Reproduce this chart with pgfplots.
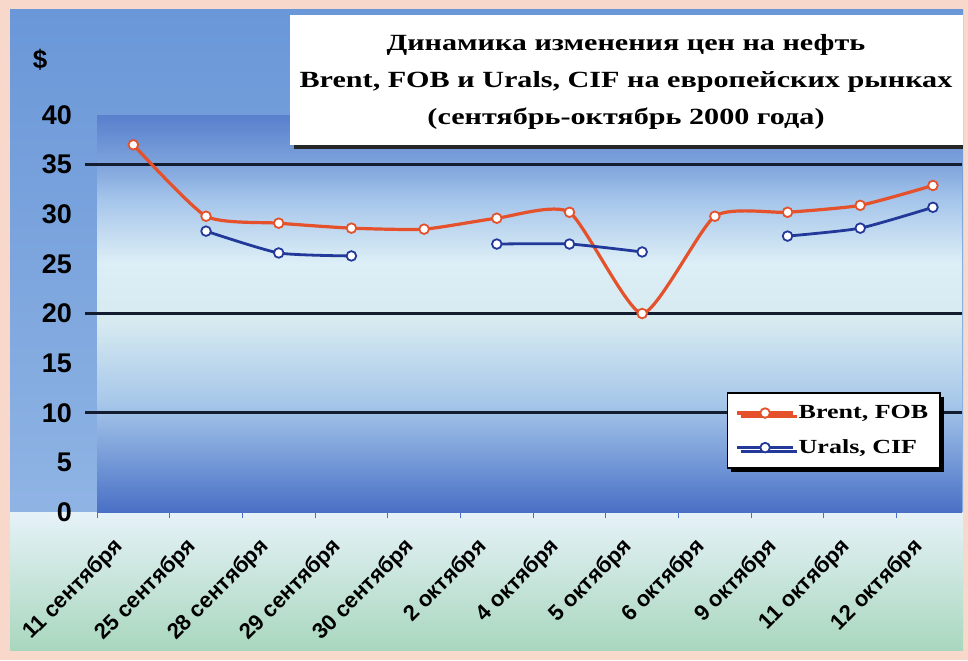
\documentclass[border=0pt]{standalone}
\usepackage{fontspec}
\setmainfont{Liberation Serif}
\setsansfont{Liberation Sans}
\newfontfamily\titlefont[FakeStretch=1.3]{Liberation Serif}
\usepackage{pgfplots}
\pgfplotsset{compat=1.18}
\usetikzlibrary{shadows}

\definecolor{pinkbg}{HTML}{F8D8CA}
\definecolor{panelTop}{HTML}{6A97D8}
\definecolor{panelBot}{HTML}{8FB4E4}
\definecolor{lowTop}{HTML}{E6F2F8}
\definecolor{lowBot}{HTML}{A9D7BE}
\definecolor{pb0}{HTML}{4A70C6}
\definecolor{pb1}{HTML}{6D92D4}
\definecolor{pb2}{HTML}{A8C8EA}
\definecolor{pb3}{HTML}{D6EAF0}
\definecolor{pb4}{HTML}{DCEEF6}
\definecolor{pb5}{HTML}{A4C4EA}
\definecolor{pb6}{HTML}{7EA3DC}
\definecolor{pb7}{HTML}{5880CC}
\definecolor{gridc}{HTML}{141C30}
\definecolor{redc}{HTML}{E4512B}
\definecolor{bluec}{HTML}{23399A}

\pgfdeclareverticalshading{plotbg}{100bp}{color(0bp)=(pb0); color(25bp)=(pb0); color(30.3bp)=(pb1); color(39bp)=(pb2); color(49bp)=(pb3); color(56.5bp)=(pb4); color(64.5bp)=(pb5); color(68.8bp)=(pb6); color(75bp)=(pb7); color(100bp)=(pb7)}

\begin{document}
\begin{tikzpicture}[x=1pt,y=1pt]
\path[use as bounding box, fill=pinkbg] (0,0) rectangle (484,330);
\shade[top color=panelTop, bottom color=panelBot] (5,74) rectangle (481.5,325);
\shade[top color=lowTop, bottom color=lowBot] (5,5) rectangle (481.5,74);
\node[font=\sffamily\bfseries\fontsize{13}{13}\selectfont] at (20,300) {\$};
\begin{axis}[
  at={(48.5pt,74pt)}, anchor=south west,
  scale only axis, width=432.5pt, height=198.5pt,
  xmin=-0.5, xmax=11.4, ymin=0, ymax=40,
  axis background/.style={shade, shading=plotbg},
  axis line style={draw=none},
  major tick length=0pt,
  ytick pos=left, xtick pos=bottom,
  xtick={0,...,11},
  minor xtick={-0.5,0.5,...,10.5},
  minor tick length=3pt,
  minor tick style={pb0, line width=0.5pt},
  tick align=outside,
  xticklabels={11 сентября, 25 сентября, 28 сентября, 29 сентября, 30 сентября, 2 октября, 4 октября, 5 октября, 6 октября, 9 октября, 11 октября, 12 октября},
  ytick={0,5,...,40},
  /pgf/number format/assume math mode=true,
  yticklabel style={font=\sffamily\bfseries\fontsize{13.5}{14}\selectfont, anchor=east, xshift=-9pt},
  xticklabel style={font=\sffamily\bfseries\fontsize{11}{12}\selectfont, inner sep=1pt, xshift=-6pt, yshift=-15pt, rotate=45, anchor=east},
  extra y ticks={10,20,35},
  extra y tick labels={},
  extra y tick style={grid=major, major grid style={gridc, line width=1.3pt}, major tick length=6pt, tick align=outside, tick style={gridc, line width=1.3pt}},
  legend style={at={(0.728,0.302)}, anchor=north west, draw=black, line width=0.8pt, fill=white,
    font=\titlefont\bfseries\fontsize{10}{12}\selectfont, inner xsep=4pt, inner ysep=4pt, row sep=5pt,
    drop shadow={shadow xshift=1.8pt, shadow yshift=-1.8pt, fill=black, opacity=1}},
  legend cell align=left,
  legend image code/.code={\draw[mark repeat=2,mark phase=2,#1] plot coordinates {(0pt,0pt) (14pt,0pt) (28pt,0pt)};},
]
\addplot[redc, line width=1.6pt, smooth, tension=0.35, mark=*, mark size=2.4pt, mark options={fill=white, draw=redc, line width=0.9pt, solid}]
  coordinates {(0,37.0) (1,29.8) (2,29.1) (3,28.6) (4,28.5) (5,29.6) (6,30.2) (7,20.0) (8,29.8) (9,30.2) (10,30.9) (11,32.9)};
\addlegendentry{Brent, FOB}
\addplot[bluec, line width=1.4pt, smooth, tension=0.35, mark=*, mark size=2.4pt, mark options={fill=white, draw=bluec, line width=0.9pt, solid}]
  coordinates {(1,28.3) (2,26.1) (3,25.8)};
\addlegendentry{Urals, CIF}
\addplot[bluec, line width=1.4pt, smooth, tension=0.35, mark=*, mark size=2.4pt, mark options={fill=white, draw=bluec, line width=0.9pt, solid}, forget plot]
  coordinates {(5,27.0) (6,27.0) (7,26.2)};
\addplot[bluec, line width=1.4pt, smooth, tension=0.35, mark=*, mark size=2.4pt, mark options={fill=white, draw=bluec, line width=0.9pt, solid}, forget plot]
  coordinates {(9,27.8) (10,28.6) (11,30.7)};
\end{axis}
\fill[black!85] (147,255.5) rectangle (481.5,320);
\fill[white] (145,257.5) rectangle (481.5,322.5);
\node[align=center, font=\titlefont\bfseries\fontsize{11.6}{18.5}\selectfont] at (313,289) {Динамика изменения цен на нефть\\Brent, FOB и Urals, CIF на европейских рынках\\(сентябрь-октябрь 2000 года)};
\end{tikzpicture}
\end{document}
